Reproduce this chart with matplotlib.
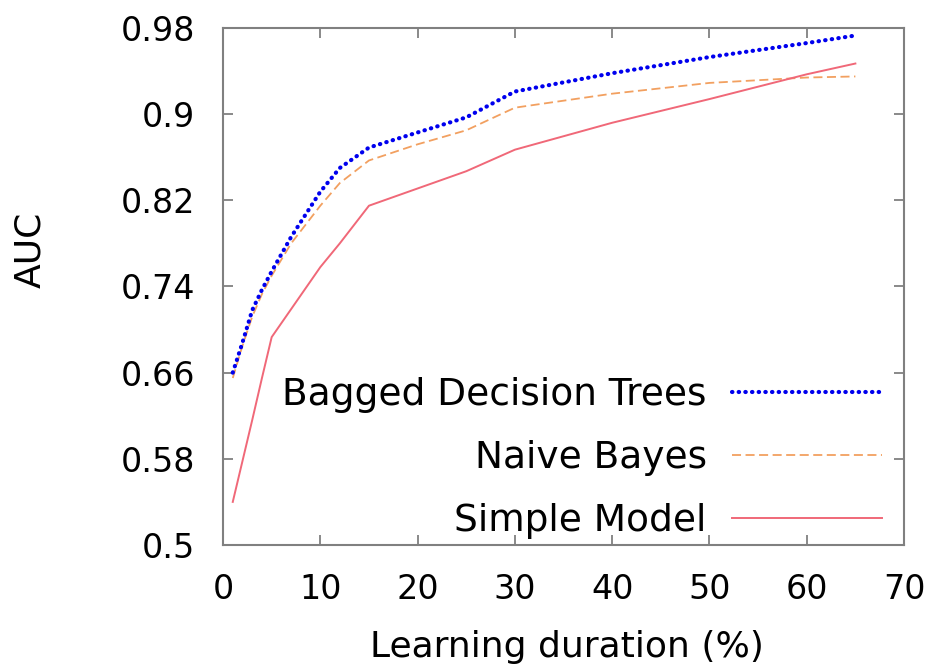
import numpy as np
import matplotlib.pyplot as plt

# Learning duration (%) and AUC values
duration = [1, 2, 3, 4, 5, 7, 10, 12, 15, 20, 25, 30, 40, 50, 60, 65]
bagged_trees = [0.660, 0.688, 0.718, 0.737, 0.754, 0.786, 0.828, 0.850,
                0.869, 0.883, 0.897, 0.921, 0.938, 0.953, 0.966, 0.973]
naive_bayes = [0.655, 0.685, 0.712, 0.733, 0.750, 0.780, 0.815, 0.836,
               0.857, 0.872, 0.885, 0.906, 0.919, 0.929, 0.934, 0.935]
simple_model = [0.540, 0.578, 0.616, 0.655, 0.693, 0.719, 0.758, 0.780,
                0.815, 0.831, 0.847, 0.867, 0.892, 0.914, 0.937, 0.947]

x_ticks = [0, 10, 20, 30, 40, 50, 60, 70]
y_ticks = [0.5, 0.58, 0.66, 0.74, 0.82, 0.9, 0.98]
y_labels = ["0.5", "0.58", "0.66", "0.74", "0.82", "0.9", "0.98"]

plt.rcParams['font.family'] = ['DejaVu Sans']

fig = plt.figure(figsize=(9.34, 6.71), dpi=100)
ax = fig.add_axes([0.2388, 0.1878, 0.7291, 0.7705])

ax.plot(duration, bagged_trees, color='#0000ee', linewidth=3.0,
        linestyle=(0, (0.1, 1.5)), dash_capstyle='round',
        label='Bagged Decision Trees', zorder=3)
ax.plot(duration, naive_bayes, color='#f2a060', linewidth=1.3,
        linestyle=(0, (5, 2.5)), label='Naive Bayes', zorder=2)
ax.plot(duration, simple_model, color='#f06878', linewidth=1.4,
        label='Simple Model', zorder=2)

ax.set_xlim(0, 70)
ax.set_ylim(0.5, 0.98)
ax.set_xticks(x_ticks)
ax.set_yticks(y_ticks)
ax.set_yticklabels(y_labels)

for s in ax.spines.values():
    s.set_color('#808080')
    s.set_linewidth(1.5)
ax.tick_params(direction='in', length=7, width=1.3, color='#808080',
               top=True, right=True, labelsize=24)
ax.tick_params(axis='x', pad=20)
ax.tick_params(axis='y', pad=20)

ax.set_xlabel('Learning duration (%)', fontsize=26, va='center')
ax.xaxis.set_label_coords(0.505, -0.198)
ax.set_ylabel('AUC', fontsize=26, va='center')
ax.yaxis.set_label_coords(-0.283, 0.571)

ax.legend(loc='lower right', bbox_to_anchor=(1.017, -0.053), frameon=False,
          markerfirst=False, fontsize=27, handlelength=4.0,
          handletextpad=0.67, labelspacing=0.71)

fig.savefig('out.png', dpi=100)
